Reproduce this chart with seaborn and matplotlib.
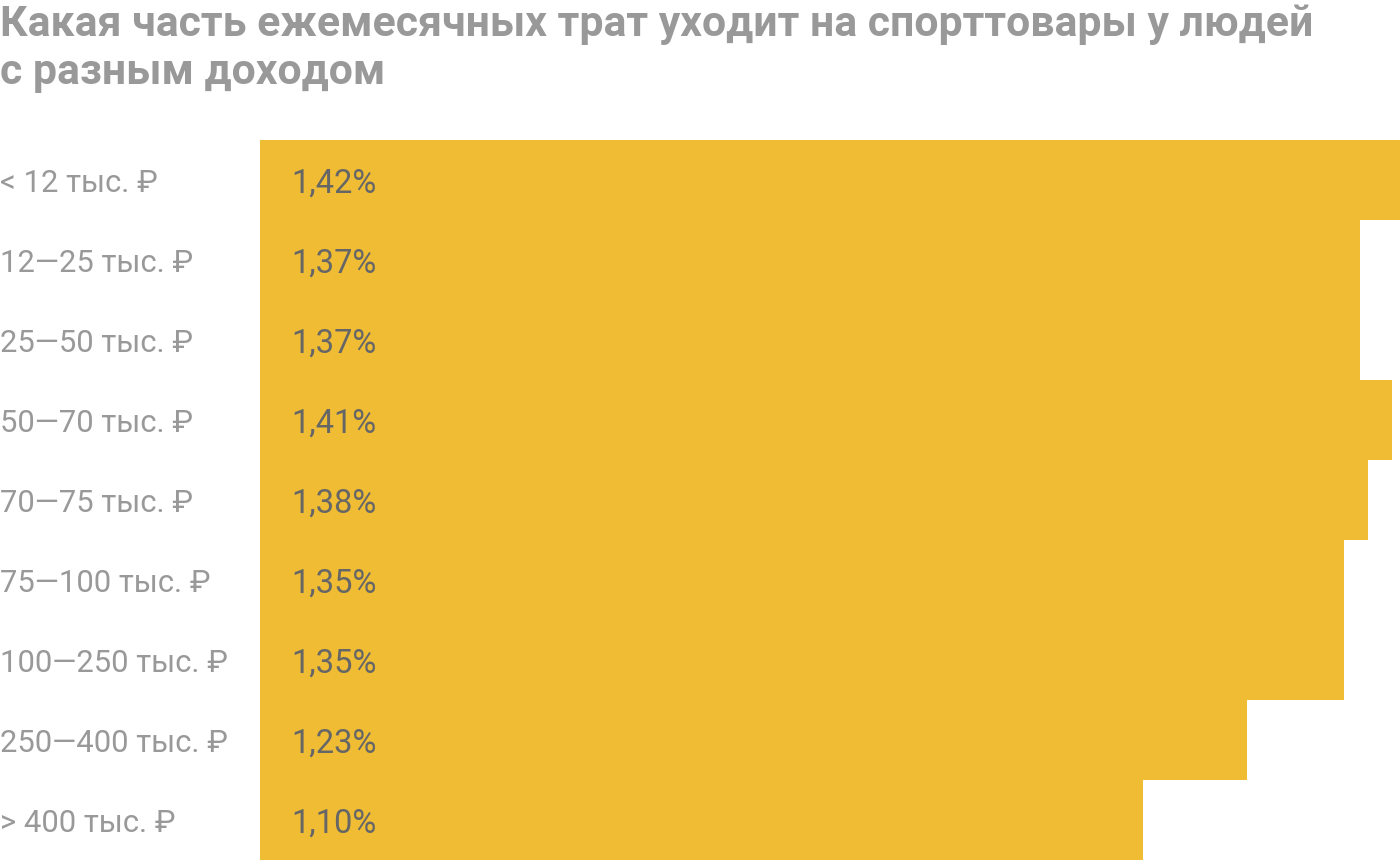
import matplotlib
matplotlib.use('Agg')
import matplotlib.pyplot as plt
import seaborn as sns
import pandas as pd

# income groups and share of monthly spending on sports goods, %
groups = ['< 12 тыс. ₽', '12—25 тыс. ₽', '25—50 тыс. ₽', '50—70 тыс. ₽', '70—75 тыс. ₽',
          '75—100 тыс. ₽', '100—250 тыс. ₽', '250—400 тыс. ₽', '> 400 тыс. ₽']
share = [1.42, 1.37, 1.37, 1.41, 1.38, 1.35, 1.35, 1.23, 1.10]
share_labels = ['1,42%', '1,37%', '1,37%', '1,41%', '1,38%', '1,35%', '1,35%', '1,23%', '1,10%']

title = 'Какая часть ежемесячных трат уходит на спорттовары у людей\nс разным доходом'

df = pd.DataFrame({'group': groups, 'share': share})

sns.set_style('white')
plt.rcParams['font.family'] = ['Roboto', 'DejaVu Sans']

fig = plt.figure(figsize=(14, 8.6), dpi=100)
ax = fig.add_axes([260 / 1400, 0, 1140 / 1400, 720 / 860])

sns.barplot(data=df, x='share', y='group', orient='h', color='#efbc33',
            saturation=1, width=1.0, linewidth=0, ax=ax)

ax.set_xlim(0, max(share))
ax.set_ylim(len(groups) - 0.5, -0.5)
ax.set_xlabel('')
ax.set_ylabel('')
ax.set_xticks([])
ax.set_yticks([])
sns.despine(ax=ax, left=True, bottom=True, top=True, right=True)

for i, (g, lab) in enumerate(zip(groups, share_labels)):
    ax.text(-260 / 1140 * max(share), i + 0.04, g, ha='left', va='center',
            fontsize=22.3, color='#999999')
    ax.text(31 / 1140 * max(share), i + 0.04, lab, ha='left', va='center',
            fontsize=23.5, color='#666666')

fig.text(0, 1 - 4 / 860, title, ha='left', va='top', fontsize=30.8,
         fontweight='bold', color='#999999', linespacing=1.22)

fig.savefig('out.png', dpi=100)
